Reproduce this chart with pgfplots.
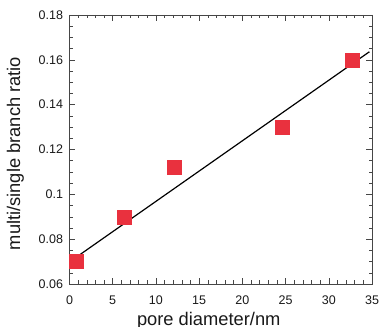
\documentclass[border=0pt]{standalone}
\usepackage{fontspec}
\setmainfont{Liberation Sans}
\usepackage{pgfplots}
\pgfplotsset{compat=1.18}
\definecolor{mred}{RGB}{233,49,62}
\definecolor{frame}{RGB}{70,70,70}
\begin{document}
\begin{tikzpicture}
\begin{axis}[
  scale only axis,
  width=302.5bp, height=269bp,
  xmin=0, xmax=35, ymin=0.06, ymax=0.18,
  xtick={0,5,...,35},
  ytick={0.06,0.08,...,0.18},
  yticklabels={0.06,0.08,0.1,0.12,0.14,0.16,0.18},
  minor x tick num=4,
  minor y tick num=3,
  tick align=inside,
  major tick length=6bp,
  minor tick length=3.5bp,
  axis line style={frame, line width=0.8pt},
  every tick/.style={frame, line width=0.5pt},
  /pgf/number format/assume math mode=true,
  ticklabel style={font=\fontsize{12.5bp}{15bp}\selectfont, text=black!90},
  xticklabel style={yshift=-8bp},
  yticklabel style={xshift=-3bp},
  label style={font=\fontsize{18.3bp}{20bp}\selectfont, text=black!90},
  xlabel={pore diameter/nm},
  ylabel={multi/single branch ratio},
  xlabel style={yshift=-1bp, xshift=-12bp},
  ylabel style={yshift=8bp, xshift=-4bp},
]
\addplot[black, line width=1.2pt, no markers] coordinates {(0.8,0.0720) (34.7,0.1636)};
\addplot[only marks, mark=square*, mark size=7bp, mark options={mred, draw=mred}] coordinates {
  (0.83,0.0700)
  (6.35,0.0898)
  (12.1,0.1123)
  (24.6,0.1300)
  (32.7,0.1598)
};
\end{axis}
\pgfresetboundingbox
\path (-69.5bp,-43bp) rectangle (312.5bp,284bp);
\end{tikzpicture}
\end{document}
